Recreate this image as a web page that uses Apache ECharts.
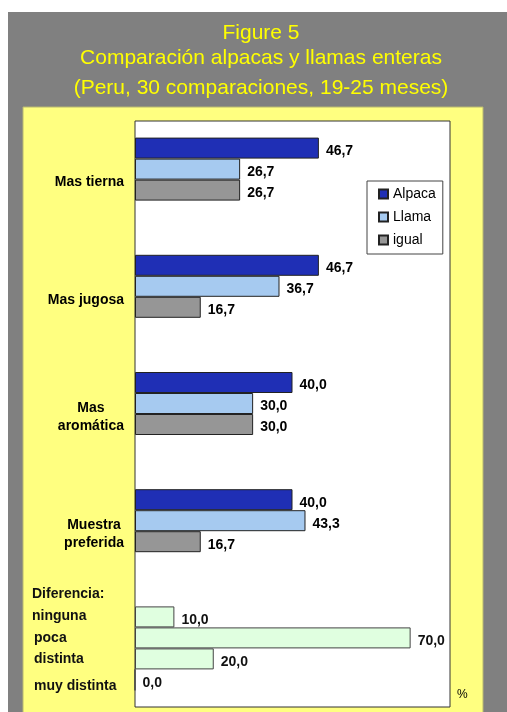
<!DOCTYPE html>
<html>
<head>
<meta charset="utf-8">
<script src="https://cdn.jsdelivr.net/npm/echarts@6/dist/echarts.min.js"></script>
<style>
  html, body { margin: 0; padding: 0; background: #fff; }
  #chart { width: 507px; height: 712px; }
</style>
</head>
<body>
<div id="chart"></div>
<script>
// Sensory comparison of alpaca and llama meat (percent of 30 comparisons)
const categories = ['Mas tierna', 'Mas jugosa', 'Mas\naromática', 'Muestra\npreferida', 'Diferencia:'];
const alpaca = [46.7, 46.7, 40.0, 40.0];
const llama = [26.7, 36.7, 30.0, 43.3];
const igual = [26.7, 16.7, 30.0, 16.7];
const diffLabels = ['ninguna', 'poca', 'distinta', 'muy distinta'];
const diffValues = [10.0, 70.0, 20.0, 0.0];
const titleLines = ['Figure 5', 'Comparación alpacas y llamas enteras', '(Peru, 30 comparaciones, 19-25 meses)'];
const legendNames = ['Alpaca', 'Llama', 'igual'];

const FONT = "'Liberation Sans', Arial, sans-serif";
const slots = ['s1', 's2', 's3', 's4'];
const attrCount = categories.length - 1;
const dash = n => Array(n).fill('-');
const fmt = p => Number(p.value).toFixed(1).replace('.', ',');

const attrColors = ['#1f2fb5', '#a6caf0', '#969696'];
const attrSeries = [alpaca, llama, igual].map((vals, i) => ({
  name: legendNames[i],
  type: 'bar',
  stack: slots[i],
  barWidth: 21,
  barGap: '0%',
  data: vals.concat(dash(categories.length - vals.length)),
  itemStyle: { color: attrColors[i], borderColor: '#222', borderWidth: 1 },
  label: {
    show: true, position: 'right', distance: 7, offset: [0, 3],
    formatter: fmt, fontFamily: FONT, fontSize: 14, fontWeight: 'bold', color: '#000'
  }
}));

const diffSeries = diffValues.map((v, i) => ({
  name: diffLabels[i],
  type: 'bar',
  stack: slots[i],
  barWidth: 21,
  barGap: '0%',
  data: dash(attrCount).concat([v]),
  itemStyle: { color: '#e0ffe0', borderColor: '#444', borderWidth: 1 },
  label: {
    show: true, position: 'right', distance: 7, offset: [0, 3],
    formatter: fmt, fontFamily: FONT, fontSize: 14, fontWeight: 'bold', color: '#111'
  }
}));

function categoryLabel(v) {
  if (v === categories[categories.length - 1]) {
    const lines = ['{d|' + v + '}'];
    diffLabels.forEach((t, i) => {
      lines.push(i === 0 ? '{d|' + t + '}' : (i < diffLabels.length - 1 ? '{p|' + t + '}' : '{m|' + t + '}'));
    });
    lines.push('{e| }');
    return lines.join('\n');
  }
  if (v.indexOf('\n') >= 0) {
    return v.split('\n').map(t => '{c|' + t + '}').join('\n');
  }
  return '{b|' + v + '}';
}

const chart = echarts.init(document.getElementById('chart'), null, { renderer: 'canvas' });

chart.setOption({
  backgroundColor: '#fff',
  animation: false,
  graphic: [
    { type: 'rect', z: -20, shape: { x: 8, y: 12, width: 499, height: 700 }, style: { fill: '#808080' } },
    { type: 'rect', z: -19, shape: { x: 23, y: 107, width: 460, height: 610 },
      style: { fill: '#ffff80', stroke: '#b8b870', lineWidth: 1 } },
    { type: 'text', z: -18, x: 261, y: 33, style: { text: titleLines[0], fill: '#ffff00', font: '21px ' + FONT, textAlign: 'center', textVerticalAlign: 'middle' } },
    { type: 'text', z: -18, x: 261, y: 58.5, style: { text: titleLines[1], fill: '#ffff00', font: '21px ' + FONT, textAlign: 'center', textVerticalAlign: 'middle' } },
    { type: 'text', z: -18, x: 261, y: 88.5, style: { text: titleLines[2], fill: '#ffff00', font: '21px ' + FONT, textAlign: 'center', textVerticalAlign: 'middle' } }
  ],
  legend: {
    data: legendNames,
    orient: 'vertical',
    left: 367, top: 181,
    itemWidth: 9, itemHeight: 9, itemGap: 9,
    padding: [6, 7, 7, 11],
    backgroundColor: '#fff',
    borderColor: '#444', borderWidth: 1, borderRadius: 0,
    icon: 'rect',
    textStyle: { fontFamily: FONT, fontSize: 14, color: '#000', lineHeight: 14 }
  },
  grid: {
    left: 135, top: 121, right: 57, bottom: 5,
    show: true, backgroundColor: '#fff', borderColor: '#333', borderWidth: 1,
    containLabel: false, outerBoundsMode: 'none'
  },
  xAxis: {
    type: 'value', min: 0, max: 80,
    axisLine: { show: false }, axisTick: { show: false }, axisLabel: { show: false },
    splitLine: { show: false },
    name: '%', nameLocation: 'end', nameGap: 7,
    nameTextStyle: { fontFamily: FONT, fontSize: 12, color: '#000', verticalAlign: 'bottom', padding: [0, 0, 6, 0] }
  },
  yAxis: {
    type: 'category', inverse: true, data: categories,
    axisLine: { show: false }, axisTick: { show: false }, splitLine: { show: false },
    axisLabel: {
      margin: 11, align: 'right', padding: [6, 0, 0, 0],
      formatter: categoryLabel,
      rich: {
        b: { fontFamily: FONT, fontSize: 14, fontWeight: 'bold', color: '#000' },
        c: { fontFamily: FONT, fontSize: 14, fontWeight: 'bold', color: '#000', align: 'center', lineHeight: 18.7 },
        d: { fontFamily: FONT, fontSize: 14, fontWeight: 'bold', color: '#111', align: 'left', width: 92, lineHeight: 21.7 },
        p: { fontFamily: FONT, fontSize: 14, fontWeight: 'bold', color: '#111', align: 'left', width: 90, padding: [0, 0, 0, 2], lineHeight: 21.7 },
        m: { fontFamily: FONT, fontSize: 14, fontWeight: 'bold', color: '#111', align: 'left', width: 90, padding: [0, 0, 0, 2], lineHeight: 31 },
        e: { fontFamily: FONT, fontSize: 10, lineHeight: 18 }
      }
    }
  },
  series: attrSeries.concat(diffSeries)
});
</script>
</body>
</html>
